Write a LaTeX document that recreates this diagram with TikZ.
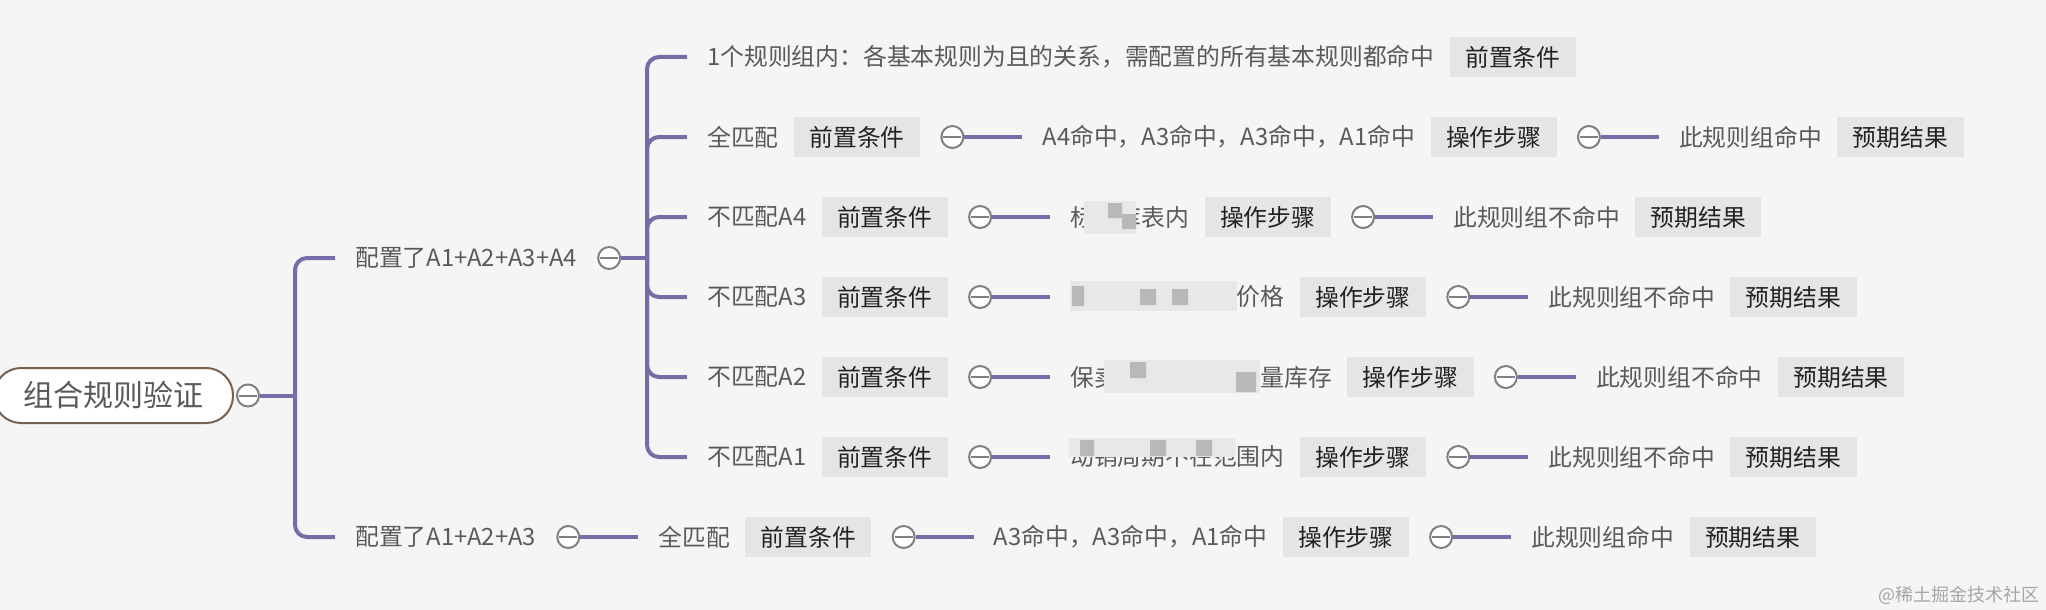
\documentclass[tikz,border=0pt]{standalone}
\usepackage{fontspec}
\setmainfont{Noto Sans CJK SC}
\usetikzlibrary{positioning}
\definecolor{bgcol}{RGB}{245,245,245}
\definecolor{linkpurple}{RGB}{118,108,166}
\definecolor{textgray}{RGB}{90,90,90}
\definecolor{tagfill}{RGB}{229,229,229}
\definecolor{tagtext}{RGB}{34,34,34}
\definecolor{foldgray}{RGB}{128,128,128}
\definecolor{rootbrown}{RGB}{118,98,82}

\begin{document}
\begin{tikzpicture}[
    x=1pt, y=-1pt,
    topic/.style={anchor=west, inner sep=0pt, text=textgray, font=\fontsize{23.8}{28}\selectfont},
    tagbox/.style={fill=tagfill, text=tagtext, minimum height=40pt, inner xsep=15.5pt, inner ysep=0pt, font=\fontsize{23.8}{28}\selectfont},
    fold/.style={circle, draw=foldgray, line width=2pt, fill=white, minimum size=22pt, inner sep=0pt,
      path picture={\draw[foldgray, line width=2pt] ([xshift=-9pt]path picture bounding box.center) -- ([xshift=9pt]path picture bounding box.center);}},
    link/.style={draw=linkpurple, line width=4pt},
    branch/.style={link, rounded corners=12pt, shorten >=20pt},
    blur/.style={fill=black!9},
    blurdark/.style={fill=black!28},
]
  \fill[bgcol] (0,0) rectangle (2046,610);
  \useasboundingbox (0,0) rectangle (2046,610);

  % Root
  \node[draw=rootbrown, line width=2pt, fill=white, rounded corners=27pt, minimum width=239pt, minimum height=55pt,
        text=textgray, font=\fontsize{30}{34}\selectfont] (root) at (113.5,395.5) {组合规则验证};
  \node[fold] (rootdot) at (248,395.5) {};
  \coordinate (b0) at (295,395.5);
  \draw[link] (rootdot) -- (b0);

  % Group A1+A2+A3+A4
  \node[topic] (g1) at (355,258) {配置了A1+A2+A3+A4};
  \node[fold, right=20pt of g1] (g1dot) {};
  \coordinate (b1) at (647,258);
  \draw[link] (g1dot) -- (b1);
  \draw[branch] (b0) |- (g1);

  % Row 0
  \node[topic] (pre0) at (707,57) {1个规则组内：各基本规则为且的关系，需配置的所有基本规则都命中};
  \node[tagbox, right=15pt of pre0] (pre0tag) {前置条件};
  \draw[branch] (b1) |- (pre0);

  % Rows 1-5
  \foreach \i/\ya/\cond/\act/\outcome in {
      1/137/全匹配/A4命中，A3命中，A3命中，A1命中/此规则组命中,
      2/217/不匹配A4/标签库表内/此规则组不命中,
      3/297/不匹配A3/报价高于配置的价格/此规则组不命中,
      4/377/不匹配A2/保卖库存小于销售量库存/此规则组不命中,
      5/457/不匹配A1/动销周期不在范围内/此规则组不命中}{
    \node[topic] (pre\i) at (707,\ya) {\cond};
    \node[tagbox, right=15pt of pre\i] (pre\i tag) {前置条件};
    \node[fold, right=20pt of pre\i tag] (pre\i dot) {};
    \node[topic, right=78pt of pre\i dot] (act\i) {\act};
    \node[tagbox, right=15pt of act\i] (act\i tag) {操作步骤};
    \node[fold, right=20pt of act\i tag] (act\i dot) {};
    \node[topic, right=78pt of act\i dot] (res\i) {\outcome};
    \node[tagbox, right=15pt of res\i] (res\i tag) {预期结果};
    \draw[link, shorten >=20pt] (pre\i dot) -- (act\i);
    \draw[link, shorten >=20pt] (act\i dot) -- (res\i);
    \draw[branch] (b1) |- (pre\i);
  }

  % Masked text
  \fill[blur] (1084,201) rectangle (1136,234);
  \fill[blurdark] (1108,203) rectangle (1122,218) (1122,214) rectangle (1136,229);
  \fill[blur] (1070,281) rectangle (1237,311);
  \fill[blurdark] (1072,286) rectangle (1084,306) (1140,289) rectangle (1156,305) (1172,289) rectangle (1188,305);
  \fill[blur] (1104,360) rectangle (1260,393);
  \fill[blurdark] (1130,362) rectangle (1146,378) (1236,372) rectangle (1256,392);
  \fill[blur] (1069,438) rectangle (1236,457);
  \fill[blurdark] (1080,440) rectangle (1094,456) (1150,440) rectangle (1166,456) (1196,440) rectangle (1212,456);

  % Group A1+A2+A3
  \node[topic] (g2) at (355,537) {配置了A1+A2+A3};
  \node[fold, right=20pt of g2] (g2dot) {};
  \draw[branch] (b0) |- (g2);
  \node[topic, right=78pt of g2dot] (pre6) {全匹配};
  \node[tagbox, right=15pt of pre6] (pre6tag) {前置条件};
  \node[fold, right=20pt of pre6tag] (pre6dot) {};
  \node[topic, right=78pt of pre6dot] (act6) {A3命中，A3命中，A1命中};
  \node[tagbox, right=15pt of act6] (act6tag) {操作步骤};
  \node[fold, right=20pt of act6tag] (act6dot) {};
  \node[topic, right=78pt of act6dot] (res6) {此规则组命中};
  \node[tagbox, right=15pt of res6] (res6tag) {预期结果};
  \draw[link, shorten >=20pt] (g2dot) -- (pre6);
  \draw[link, shorten >=20pt] (pre6dot) -- (act6);
  \draw[link, shorten >=20pt] (act6dot) -- (res6);

  % Watermark
  \node[anchor=east, inner sep=0pt, text=black!35, font=\fontsize{18}{20}\selectfont] (mark) at (2040,595) {@稀土掘金技术社区};
\end{tikzpicture}
\end{document}
